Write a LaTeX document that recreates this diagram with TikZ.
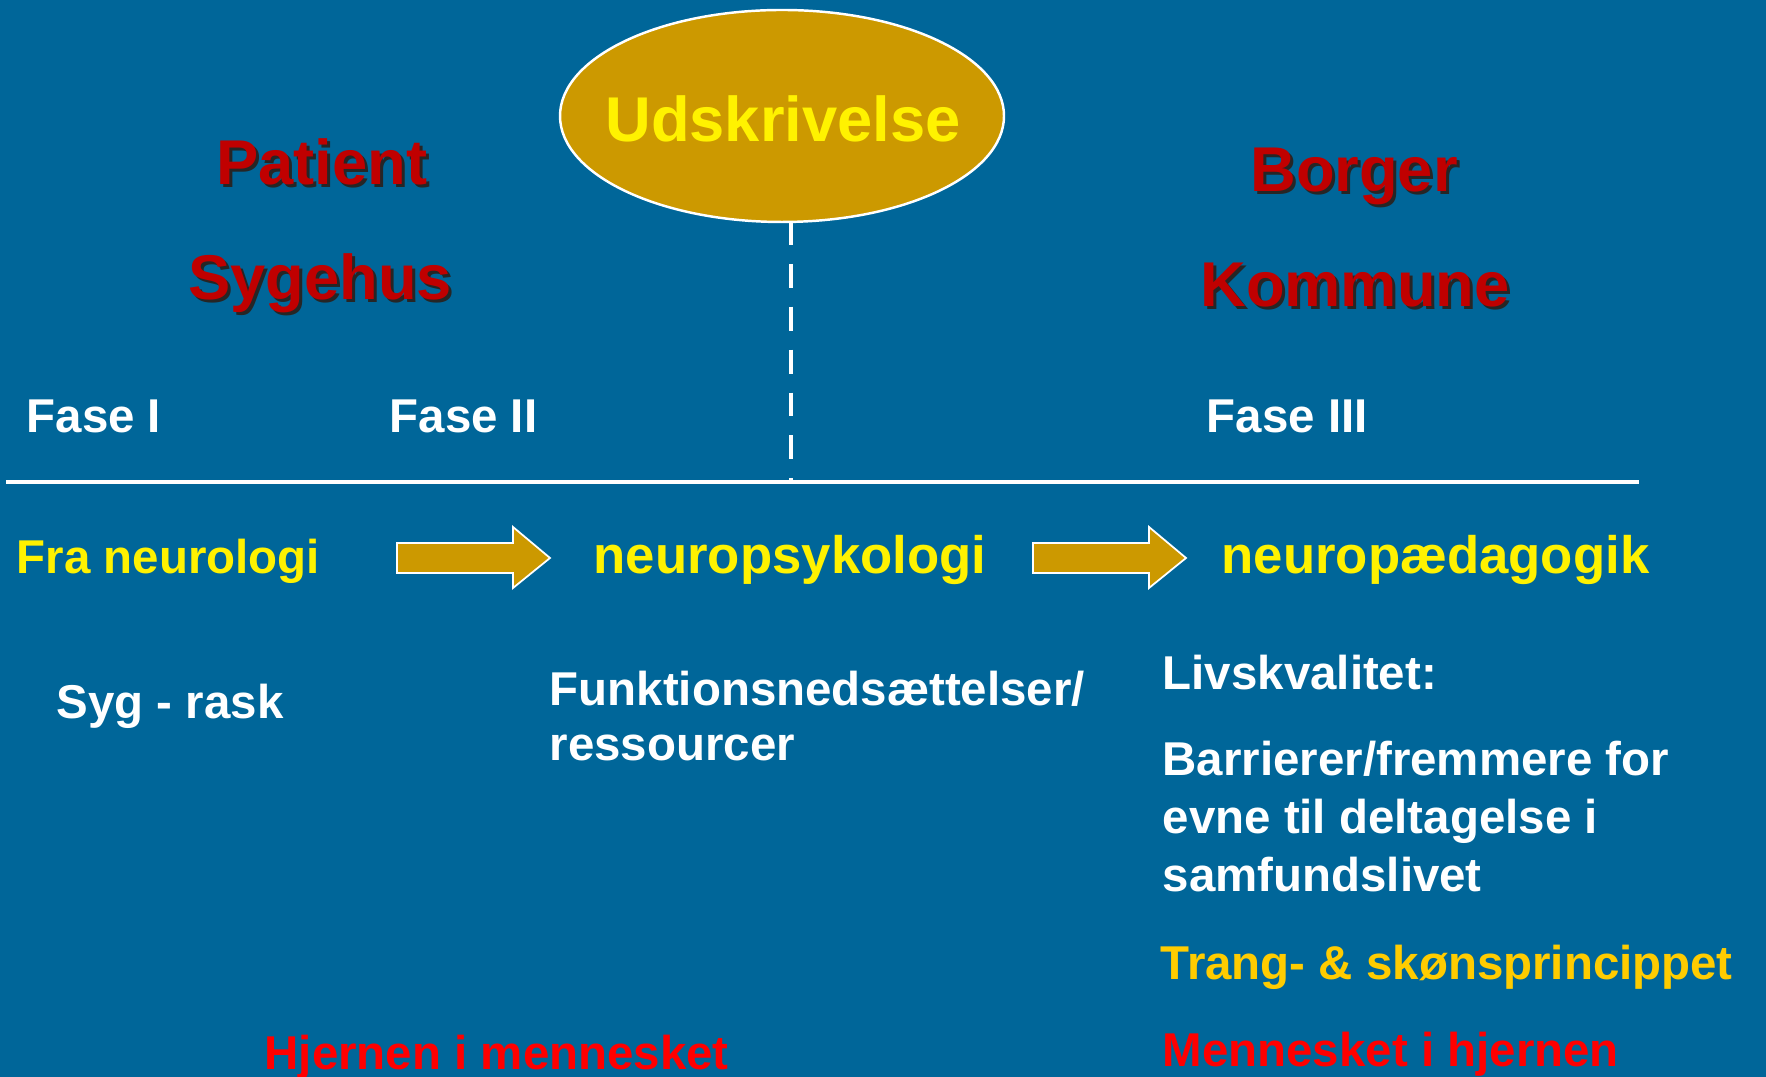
\documentclass[tikz,border=0pt]{standalone}
\usepackage{fontspec}
\setmainfont{Liberation Sans}
\usetikzlibrary{positioning}

\definecolor{slidebg}{RGB}{0,102,153}
\definecolor{gold}{RGB}{204,153,0}
\definecolor{titlered}{RGB}{192,0,0}
\definecolor{amber}{RGB}{255,204,0}

% red heading with a dark drop shadow behind it
\newcommand{\shadowtitle}[3]{%
  \node[titleshadow, xshift=0.3mm, yshift=-0.3mm] at (#2) {#3};
  \node[titletext] (#1) at (#2) {#3};
}

\begin{document}
\begin{tikzpicture}[x=0.1mm, y=-0.1mm,
  titletext/.style={font=\fontsize{18}{22}\selectfont\bfseries, text=titlered, anchor=base, inner sep=0pt},
  titleshadow/.style={titletext, text=black!85},
  whitetext/.style={font=\fontsize{13.5}{16}\selectfont\bfseries, text=white, anchor=base west, inner sep=0pt},
  yellowtext/.style={whitetext, text=yellow},
  redtext/.style={whitetext, text=red},
  phasearrow/.style={fill=gold, draw=white, line width=0.5pt, line join=miter},
]

% slide background, fixes the size of the picture
\fill[slidebg] (0,0) rectangle (1766,1077);
\useasboundingbox (0,0) rectangle (1766,1077);

% the two headings on each side
\shadowtitle{patient}{322,185}{Patient}
\shadowtitle{sygehus}{320,300}{Sygehus}
\shadowtitle{borger}{1354,192}{Borger}
\shadowtitle{kommune}{1355,307}{Kommune}

% discharge in the middle: gold ellipse with the word on it
\filldraw[fill=gold, draw=white, line width=0.7pt] (782,116) ellipse [x radius=22.2mm, y radius=10.6mm];
\node[font=\fontsize{18}{22}\selectfont\bfseries, text=yellow, inner sep=0pt] (udskriv) at (783,119) {Udskrivelse};

% time line and the dashed marker down from the ellipse
\coordinate (tlstart) at (6,482);
\coordinate (tlend) at (1639,482);
\coordinate (skel) at (791,482);
\coordinate (dashtop) at (791,221);
\draw[white, line width=1.4pt] (tlstart) -- (tlend);
\draw[white, line width=1.4pt, dash pattern=on 6.8pt off 5.4pt] (dashtop) -- (skel);

% phases above the line
\node[whitetext] (fase1) at (26,433) {Fase I};
\node[whitetext] (fase2) at (389,433) {Fase II};
\node[whitetext] (fase3) at (1206,433) {Fase III};

% from one field to the next
\node[yellowtext] (neurologi) at (16,574) {Fra neurologi};
\node[yellowtext, font=\fontsize{15}{18}\selectfont\bfseries] (neuropsyk) at (593,574) {neuropsykologi};
\node[yellowtext, font=\fontsize{15}{18}\selectfont\bfseries] (neuropaed) at (1221,574) {neuropædagogik};

% the two gold arrows
\foreach \x in {0,636}
  \draw[phasearrow] (\x+397,543) -- (\x+513,543) -- (\x+513,527) -- (\x+550,558)
    -- (\x+513,588) -- (\x+513,573) -- (\x+397,573) -- cycle;

% text under each phase
\node[whitetext] (sygrask) at (56,719) {Syg - rask};
\node[whitetext] (funktion) at (549,706) {Funktionsnedsættelser/};
\node[whitetext] (ressourcer) at (549,761) {ressourcer};

\node[whitetext] (livskval) at (1162,690) {Livskvalitet:};
\node[whitetext] (barrierer) at (1162,776) {Barrierer/fremmere for};
\node[whitetext] (evne) at (1162,834) {evne til deltagelse i};
\node[whitetext] (samfund) at (1162,891) {samfundslivet};
\node[whitetext, text=amber] (trang) at (1160,979) {Trang- \& skønsprincippet};

% bottom line, cut by the slide edge
\node[redtext] (hjernen) at (264,1069) {Hjernen i mennesket};
\node[redtext] (mennesket) at (1162,1066) {Mennesket i hjernen};

\end{tikzpicture}
\end{document}
